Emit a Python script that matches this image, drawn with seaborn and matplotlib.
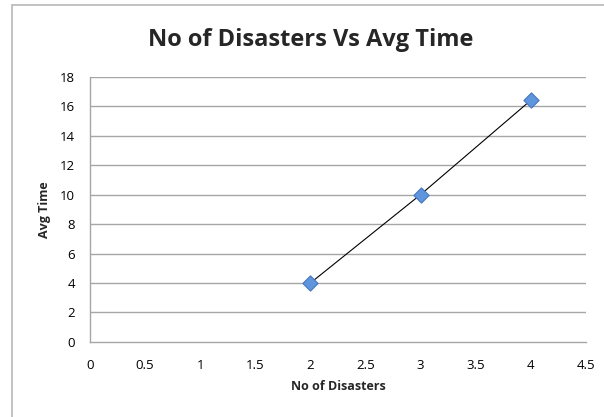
import matplotlib
matplotlib.use("Agg")
import matplotlib.pyplot as plt
import seaborn as sns
import pandas as pd
from matplotlib.patches import Rectangle

# values
disasters = [2, 3, 4]
avg_time = [4, 10, 16.4]
x_ticks = [0, 0.5, 1, 1.5, 2, 2.5, 3, 3.5, 4, 4.5]
y_ticks = [0, 2, 4, 6, 8, 10, 12, 14, 16, 18]

df = pd.DataFrame({"No of Disasters": disasters, "Avg Time": avg_time})

sns.set_theme(style="white")
plt.rcParams["font.family"] = ["Open Sans", "DejaVu Sans"]

fig = plt.figure(figsize=(6.04, 4.17), dpi=100)
ax = fig.add_axes([0.149, 0.180, 0.821, 0.636])

# outer chart frame like the spreadsheet chart box
fig.patches.append(Rectangle((12 / 604, -0.05), 1.0, 1 - 5 / 417 + 0.05,
                             transform=fig.transFigure, fill=False,
                             edgecolor="#b8b8b8", linewidth=1.2))

for y in y_ticks[1:]:
    ax.axhline(y, color="#a6a6a6", linewidth=1.0, zorder=0)

sns.lineplot(data=df, x="No of Disasters", y="Avg Time", ax=ax,
             color="black", linewidth=0.8, zorder=2)
sns.scatterplot(data=df, x="No of Disasters", y="Avg Time", ax=ax,
                marker="D", s=60, color="#5f95dc", edgecolor="#4677c0",
                linewidth=0.8, zorder=3)

ax.set_xlim(0, 4.5)
ax.set_ylim(0, 18)
ax.set_xticks(x_ticks)
ax.set_xticklabels([f"{t:g}" for t in x_ticks])
ax.set_yticks(y_ticks)
ax.tick_params(axis="both", length=0, labelsize=9.5, colors="black")
ax.tick_params(axis="x", pad=12)
ax.tick_params(axis="y", pad=11)

for side in ["top", "right"]:
    ax.spines[side].set_visible(False)
for side in ["left", "bottom"]:
    ax.spines[side].set_color("#a6a6a6")
    ax.spines[side].set_linewidth(1.0)

ax.set_xlabel("No of Disasters", fontsize=9, fontweight="bold", labelpad=6)
ax.set_ylabel("Avg Time", fontsize=9, fontweight="bold", labelpad=6)
fig.text(0.515, 0.905, "No of Disasters Vs Avg Time", ha="center", va="center",
         fontsize=17, fontweight="bold")

fig.savefig("out.png", dpi=100)
